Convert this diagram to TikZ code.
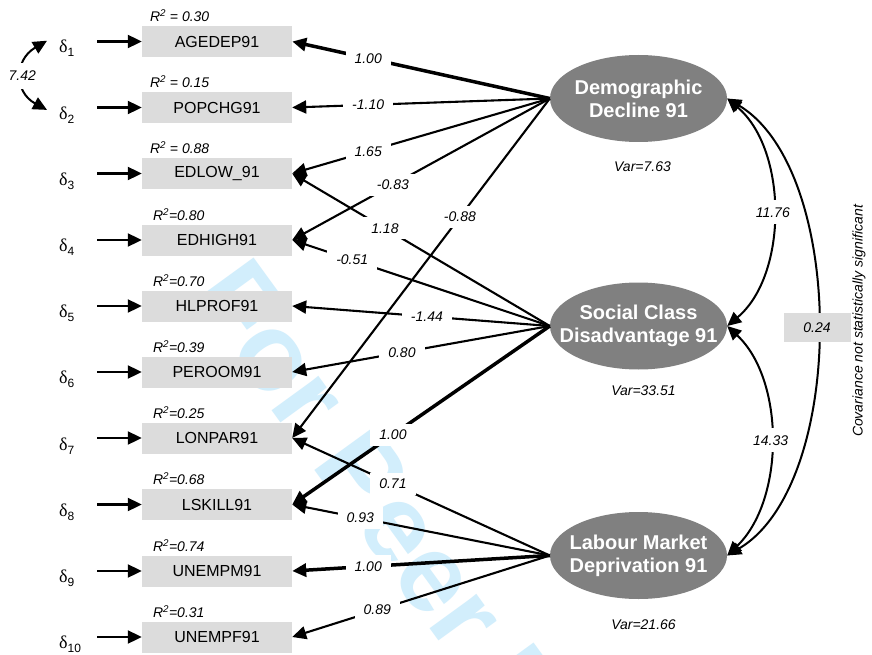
\documentclass[tikz,border=0pt]{standalone}
\usepackage{fontspec}
\setmainfont{Liberation Sans}
\newfontfamily\dserif{Liberation Serif}
\usetikzlibrary{arrows.meta,shapes.geometric}
\definecolor{boxgray}{RGB}{220,220,220}
\definecolor{ellgray}{RGB}{128,128,128}
\definecolor{wmark}{RGB}{210,238,252}
\begin{document}
\begin{tikzpicture}[x=1pt,y=-1pt,
  obs/.style={fill=boxgray, minimum width=150pt, minimum height=31pt, inner sep=0pt, font=\fontsize{16}{18}\selectfont},
  lat/.style={ellipse, fill=ellgray, minimum width=177pt, minimum height=87pt, inner sep=0pt},
  lattext/.style={inner sep=0pt, align=center, text=white, font=\bfseries\fontsize{20}{23}\selectfont},
  lab/.style={fill=white, inner xsep=9pt, inner ysep=6pt, font=\itshape\fontsize{14}{16}\selectfont},
  plainlab/.style={inner sep=0pt, font=\itshape\fontsize{14}{16}\selectfont},
  r2/.style={anchor=base west, inner sep=0pt, font=\itshape\fontsize{14}{16}\selectfont},
  dl/.style={anchor=base west, inner sep=0pt, text width=30pt, align=left},
  tipend/.style={-{Triangle[length=14pt,width=13pt]}},
  arr/.style={tipend, line width=2.1pt},
  thk/.style={tipend, line width=3.5pt},
  cov/.style={{Triangle[length=14pt,width=13pt]}-{Triangle[length=14pt,width=13pt]}, line width=2pt},
]
\fill[white] (0,0) rectangle (872,655);
\useasboundingbox (0,0) rectangle (872,655);
\clip (0,0) rectangle (872,655);

% watermark
\node[rotate=-54, anchor=base west, text=wmark, inner sep=0pt, font=\bfseries\fontsize{110}{110}\selectfont] (wm) at (188,296) {For Peer Review};

% observed variables
\node[obs] (b1) at (217,41.5) {AGEDEP91};
\node[obs] (b2) at (217,107.5) {POPCHG91};
\node[obs] (b3) at (217,173.5) {EDLOW\_91};
\node[obs] (b4) at (217,240) {EDHIGH91};
\node[obs] (b5) at (217,306) {HLPROF91};
\node[obs] (b6) at (217,372) {PEROOM91};
\node[obs] (b7) at (217,438) {LONPAR91};
\node[obs] (b8) at (217,504.5) {LSKILL91};
\node[obs] (b9) at (217,571) {UNEMPM91};
\node[obs] (b10) at (217,637) {UNEMPF91};

% R2 labels
\node[r2] (r1) at ([shift={(8,-4)}]b1.north west) {R\textsuperscript{2} = 0.30};
\node[r2] (r2l) at ([shift={(8,-4)}]b2.north west) {R\textsuperscript{2} = 0.15};
\node[r2] (r3) at ([shift={(8,-4)}]b3.north west) {R\textsuperscript{2} = 0.88};
\node[r2] (r4) at ([shift={(11,-4)}]b4.north west) {R\textsuperscript{2}=0.80};
\node[r2] (r5) at ([shift={(11,-4)}]b5.north west) {R\textsuperscript{2}=0.70};
\node[r2] (r6) at ([shift={(11,-4)}]b6.north west) {R\textsuperscript{2}=0.39};
\node[r2] (r7) at ([shift={(11,-4)}]b7.north west) {R\textsuperscript{2}=0.25};
\node[r2] (r8) at ([shift={(11,-4)}]b8.north west) {R\textsuperscript{2}=0.68};
\node[r2] (r9) at ([shift={(11,-4)}]b9.north west) {R\textsuperscript{2}=0.74};
\node[r2] (r10) at ([shift={(11,-4)}]b10.north west) {R\textsuperscript{2}=0.31};

% error terms
\newcommand{\dlt}[1]{{\dserif\fontsize{18}{18}\selectfont δ}\raisebox{-4pt}{\fontsize{12}{12}\selectfont #1}}
\node[dl] (d1) at (59,53) {\dlt{1}};
\node[dl] (d2) at (59,119.2) {\dlt{2}};
\node[dl] (d3) at (59,185.4) {\dlt{3}};
\node[dl] (d4) at (59,251.5) {\dlt{4}};
\node[dl] (d5) at (59,317.7) {\dlt{5}};
\node[dl] (d6) at (59,383.9) {\dlt{6}};
\node[dl] (d7) at (59,450) {\dlt{7}};
\node[dl] (d8) at (59,516.2) {\dlt{8}};
\node[dl] (d9) at (59,582.4) {\dlt{9}};
\node[dl] (d10) at (59,648.5) {\dlt{10}};

\foreach \i in {1,...,10}{
  \draw[arr, shorten <=8pt] (d\i.east |- b\i.west) -- (b\i.west);
}

\draw[cov] ([shift={(-12,-8)}]d1.west) .. controls (14,60) and (14,92) .. ([shift={(-12,-5)}]d2.west)
  node[pos=0.5, fill=white, inner xsep=2pt, inner ysep=8pt, font=\itshape\fontsize{14}{16}\selectfont] {7.42};

% latent variables
\node[lat] (D) at (638.5,98.5) {};
\node[lat] (S) at (638.5,326) {};
\node[lat] (L) at (638.5,555.5) {};
\node[lattext] (tD) at (D.center) {Demographic\\Decline 91};
\node[lattext] (tS) at (S.center) {Social Class\\Disadvantage 91};
\node[lattext] (tL) at (L.center) {Labour Market\\Deprivation 91};

\node[plainlab] (vD) at ([shift={(4,24)}]D.south) {Var=7.63};
\node[plainlab] (vS) at ([shift={(5,21)}]S.south) {Var=33.51};
\node[plainlab] (vL) at ([shift={(5,25)}]L.south) {Var=21.66};

% loadings
\draw[thk] (D.west) -- node[lab,pos=0.705]{1.00} (b1.east);
\draw[arr] (D.west) -- node[lab,pos=0.705]{-1.10} (b2.east);
\draw[arr] (D.west) -- node[lab,pos=0.705]{1.65} (b3.east);
\draw[arr] (D.west) -- node[lab,pos=0.609]{-0.83} (b4.east);
\draw[arr] (D.west) -- node[lab,pos=0.349]{-0.88} (b7.east);

\draw[arr] (S.west) -- node[lab,pos=0.64]{1.18} (b3.east);
\draw[arr] (S.west) -- node[lab,pos=0.767]{-0.51} (b4.east);
\draw[arr] (S.west) -- node[lab,pos=0.477]{-1.44} (b5.east);
\draw[arr] (S.west) -- node[lab,pos=0.574]{0.80} (b6.east);
\draw[thk] (S.west) -- node[lab,pos=0.609]{1.00} (b8.east);

\draw[arr] (L.west) -- node[lab,pos=0.609]{0.71} (b7.east);
\draw[arr] (L.west) -- node[lab,pos=0.736]{0.93} (b8.east);
\draw[thk] (L.west) -- node[lab,pos=0.705]{1.00} (b9.east);
\draw[arr] (L.west) -- node[lab,pos=0.67]{0.89} (b10.east);

% covariances
\draw[cov] (S.east) .. controls (788,275) and (788,150) .. (D.east)
  node[pos=0.5, fill=white, inner xsep=1pt, inner ysep=7pt, font=\itshape\fontsize{14}{16}\selectfont] {11.76};
\draw[cov] (S.east) .. controls (785,380) and (785,500) .. (L.east)
  node[pos=0.5, fill=white, inner xsep=1pt, inner ysep=7pt, font=\itshape\fontsize{14}{16}\selectfont] {14.33};
\draw[cov] (D.east) .. controls (847,170) and (847,485) .. (L.east)
  node[pos=0.5, fill=boxgray, minimum width=67pt, minimum height=29pt, inner sep=0pt, font=\itshape\fontsize{14}{16}\selectfont] {0.24};

\node[rotate=90, plainlab] (note) at (859,321) {Covariance not statistically significant};
\end{tikzpicture}
\end{document}
